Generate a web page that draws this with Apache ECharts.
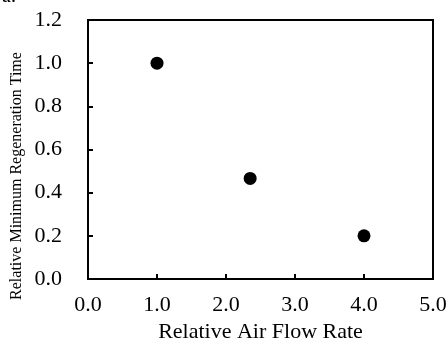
<!DOCTYPE html>
<html>
<head>
<meta charset="utf-8">
<script src="https://cdn.jsdelivr.net/npm/echarts@6/dist/echarts.min.js"></script>
<style>
  html, body { margin: 0; padding: 0; background: #fff; }
  #main { width: 448px; height: 341px; }
</style>
</head>
<body>
<div id="main"></div>
<script>
// relative air flow rate vs relative min regeneration time
const airFlow = [1.0, 2.35, 4.0];
const regenTime = [1.0, 0.466, 0.2];

const xTicks = { min: 0, max: 5, interval: 1 };
const yTicks = { min: 0, max: 1.2, interval: 0.2 };

const serif = "'Liberation Serif', 'Times New Roman', serif";

const chart = echarts.init(document.getElementById("main"));

const option = {
   animation: false,
   grid: { left: 88, right: 15, top: 20, bottom: 62, outerBoundsMode: "none", containLabel: false },
   xAxis: {
      type: "value",
      min: xTicks.min,
      max: xTicks.max,
      interval: xTicks.interval,
      name: "Relative Air Flow Rate",
      nameLocation: "middle",
      nameGap: 37,
      nameTextStyle: { color: "#000", fontFamily: serif, fontSize: 22 },
      axisLine: { onZero: false, lineStyle: { color: "#000", width: 2 } },
      axisTick: { inside: true, length: 5, lineStyle: { color: "#000", width: 2 } },
      axisLabel: {
         color: "#000", fontFamily: serif, fontSize: 22, margin: 15,
         formatter: (v) => v.toFixed(1),
      },
      splitLine: { show: false },
   },
   yAxis: {
      type: "value",
      min: yTicks.min,
      max: yTicks.max,
      interval: yTicks.interval,
      axisLine: { onZero: false, lineStyle: { color: "#000", width: 2 } },
      axisTick: { inside: true, length: 5, lineStyle: { color: "#000", width: 2 } },
      axisLabel: {
         color: "#000", fontFamily: serif, fontSize: 22, margin: 26,
         formatter: (v) => v.toFixed(1),
      },
      splitLine: { show: false },
   },
   graphic: [
      {
         type: "rect",
         shape: { x: 88, y: 20, width: 345, height: 259 },
         style: { fill: "none", stroke: "#000", lineWidth: 2 },
         silent: true,
      },
      {
         type: "text",
         x: 17,
         y: 176,
         rotation: Math.PI / 2,
         style: {
            text: "Relative Minimum Regeneration Time",
            font: "16px " + serif,
            fill: "#000",
            align: "center",
            verticalAlign: "middle",
         },
      },
      {
         type: "text",
         x: 2,
         y: -13,
         style: { text: "a.", font: "20px " + serif, fill: "#000" },
      },
   ],
   series: [
      {
         type: "scatter",
         symbol: "circle",
         symbolSize: 13,
         itemStyle: { color: "#000", opacity: 1 },
         data: airFlow.map((x, i) => [x, regenTime[i]]),
      },
   ],
};

chart.setOption(option);
</script>
</body>
</html>
